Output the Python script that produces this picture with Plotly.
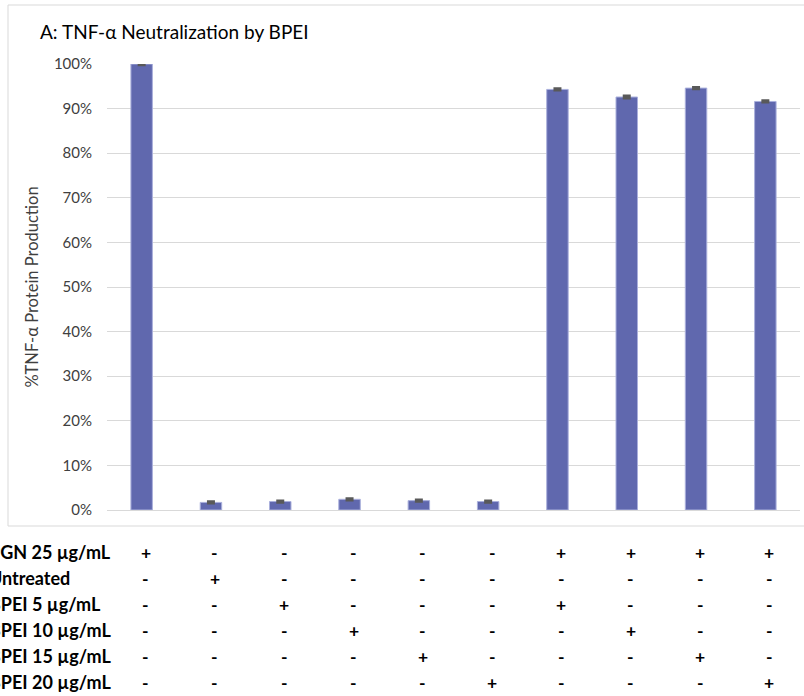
import plotly.graph_objects as go

# Sample groups (one bar per treatment combination)
groups = [f"G{i}" for i in range(1, 11)]
tnf_pct = [100.0, 1.7, 1.9, 2.4, 2.1, 1.9, 94.3, 92.6, 94.6, 91.6]
tnf_err = [0.2, 0.2, 0.2, 0.2, 0.2, 0.2, 0.2, 0.3, 0.2, 0.2]

# Treatment table shown beneath the axis
treatments = [
    "PGN 25 µg/mL",
    "Untreated",
    "BPEI 5 µg/mL",
    "BPEI 10 µg/mL",
    "BPEI 15 µg/mL",
    "BPEI 20 µg/mL",
]
signs = [
    ["+", "-", "-", "-", "-", "-", "+", "+", "+", "+"],
    ["-", "+", "-", "-", "-", "-", "-", "-", "-", "-"],
    ["-", "-", "+", "-", "-", "-", "+", "-", "-", "-"],
    ["-", "-", "-", "+", "-", "-", "-", "+", "-", "-"],
    ["-", "-", "-", "-", "+", "-", "-", "-", "+", "-"],
    ["-", "-", "-", "-", "-", "+", "-", "-", "-", "+"],
]

tick_vals = [0, 10, 20, 30, 40, 50, 60, 70, 80, 90, 100]
tick_text = [f"{v}%" for v in tick_vals]

FONT = "Lato"
BAR = "#6068ae"

fig = go.Figure()
fig.add_trace(go.Bar(
    x=groups,
    y=tnf_pct,
    width=0.31,
    marker=dict(color=BAR, line=dict(color="#aab0dc", width=1)),
    error_y=dict(type="data", array=tnf_err, visible=True,
                 color="#595959", thickness=2.5, width=4),
    showlegend=False,
))

row_y = [552, 578, 604, 630, 656, 682]
H = 696
T, B = 64, 186
L = 107
plot_h = H - T - B

annotations = []
for r, name in enumerate(treatments):
    yp = (H - B - row_y[r]) / plot_h
    annotations.append(dict(
        x=0, xref="paper", y=yp, yref="paper", text=f"<b>{name}</b>",
        showarrow=False, xanchor="left", yanchor="middle", xshift=-L - 13,
        font=dict(family=FONT, size=18, color="#000000"),
    ))
    for c, g in enumerate(groups):
        annotations.append(dict(
            x=g, xref="x", y=yp, yref="paper", text=f"<b>{signs[r][c]}</b>",
            showarrow=False, xanchor="center", yanchor="middle", xshift=4,
            font=dict(family=FONT, size=17.5, color="#000000"),
        ))

fig.update_layout(
    width=804, height=696,
    margin=dict(l=L, r=4, t=T, b=B),
    paper_bgcolor="white", plot_bgcolor="white",
    title=dict(text="A: TNF-α Neutralization by BPEI", x=40 / 804, xanchor="left",
               y=1 - 32 / 696, yanchor="middle",
               font=dict(family=FONT, size=19, color="#000000")),
    xaxis=dict(showticklabels=False, showgrid=False, zeroline=False,
               showline=False, ticks="", range=[-0.5, 9.5]),
    yaxis=dict(range=[0, 100], tickvals=tick_vals, ticktext=tick_text,
               showgrid=True, gridcolor="#d9d9d9", gridwidth=1,
               zeroline=True, zerolinecolor="#d9d9d9", zerolinewidth=1,
               showline=False, ticks="", ticklen=0, ticklabelstandoff=14,
               tickfont=dict(family=FONT, size=15, color="#404040"),
               title=dict(text="%TNF-α Protein Production", standoff=11,
                          font=dict(family=FONT, size=16.5, color="#404040"))),
    annotations=annotations,
    shapes=[dict(type="rect", xref="paper", yref="paper",
                 x0=(8 - L) / 693, x1=(806 - L) / 693,
                 y0=(H - B - 526) / plot_h, y1=(H - B - 5) / plot_h,
                 line=dict(color="#d9d9d9", width=1), fillcolor="rgba(0,0,0,0)",
                 layer="below")],
)

fig.write_html("out.html")
